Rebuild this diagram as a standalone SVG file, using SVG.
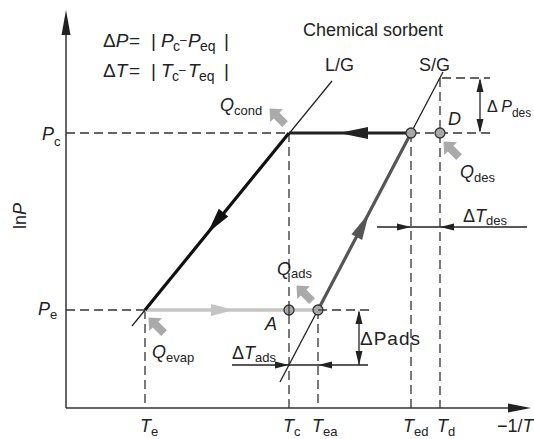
<svg xmlns="http://www.w3.org/2000/svg" width="534" height="439" viewBox="0 0 534 439">
<style>
text{font-family:"Liberation Sans",Arial,sans-serif;font-size:18px;fill:#222}
.s{font-size:13px;font-style:normal}
.i{font-style:italic}
.eq{font-size:19px}
.eq .s{font-size:14px}
.eq .m{font-size:12px}
.ax{stroke:#333;stroke-width:1.5;fill:none}
.th{stroke:#222;stroke-width:1.3;fill:none}
.d{stroke:#333;stroke-width:1.3;fill:none;stroke-dasharray:9 5}
.c{fill:#a8a8a8;stroke:#333;stroke-width:1.3}
.q{fill:#aaaaaa}
.h{fill:#222}
</style>
<defs>
<path id="qa" d="M0,-12 L9,-2 L4,-2 L4,10 L-4,10 L-4,-2 L-9,-2 Z"/>
</defs>
<g id="axes">
<line class="ax" x1="66" y1="408" x2="66" y2="30"/>
<polygon class="h" points="66,10 61.5,35 70.5,35"/>
<line class="ax" x1="66" y1="408" x2="512" y2="408"/>
<polygon class="h" points="531,408 508,403.5 508,412.5"/>
</g>
<g id="dashed">
<line class="d" x1="66" y1="133" x2="289" y2="133"/>
<line class="d" x1="411" y1="133" x2="490" y2="133"/>
<line class="d" x1="442" y1="78" x2="490" y2="78"/>
<line class="d" x1="66" y1="310" x2="145" y2="310"/>
<line class="d" x1="318" y1="310" x2="370" y2="310"/>
<line class="d" x1="145" y1="310" x2="145" y2="408"/>
<line class="d" x1="289" y1="133" x2="289" y2="408"/>
<line class="d" x1="318" y1="310" x2="318" y2="408"/>
<line class="d" x1="411" y1="133" x2="411" y2="408"/>
<line class="d" x1="440" y1="78" x2="440" y2="408"/>
</g>
<g id="connectors">
<line class="th" x1="132" y1="326" x2="332" y2="81"/>
<line class="th" x1="280" y1="382" x2="443" y2="72"/>
<line x1="145" y1="310" x2="318" y2="310" stroke="#c4c4c4" stroke-width="3.5"/>
<polygon points="234,310 211,304 211,316" fill="#c4c4c4"/>
<line x1="411" y1="133" x2="289" y2="133" stroke="#222" stroke-width="3.2"/>
<polygon class="h" points="339,133 368,127 368,139"/>
<line x1="289" y1="133" x2="145" y2="310" stroke="#111" stroke-width="3.2"/>
<polygon points="207.6,233 228.2,216.6 218.8,208.8" fill="#111"/>
<line x1="318" y1="310" x2="411" y2="133" stroke="#555" stroke-width="3.2"/>
<polygon points="369,213 362.1,239.9 351.5,234.3" fill="#555"/>
</g>
<g id="dims">
<line class="th" x1="480" y1="80" x2="480" y2="131"/>
<polygon class="h" points="480,78 476.5,92 483.5,92"/>
<polygon class="h" points="480,133 476.5,119 483.5,119"/>
<line class="th" x1="359" y1="312" x2="359" y2="365"/>
<polygon class="h" points="359,310 355.5,324 362.5,324"/>
<polygon class="h" points="359,365 355.5,351 362.5,351"/>
<line class="th" x1="232" y1="365" x2="368" y2="365"/>
<polygon class="h" points="289,365 275,361.5 275,368.5"/>
<polygon class="h" points="318,365 332,361.5 332,368.5"/>
<line class="th" x1="377" y1="227" x2="527" y2="227"/>
<polygon class="h" points="411,227 397,223.5 397,230.5"/>
<polygon class="h" points="440,227 454,223.5 454,230.5"/>
</g>
<g id="points">
<circle class="c" cx="411" cy="133" r="5"/>
<circle class="c" cx="440" cy="133" r="5"/>
<circle class="c" cx="289" cy="310" r="5"/>
<circle class="c" cx="318" cy="310" r="5"/>
<line x1="289" y1="305" x2="289" y2="315" stroke="#333" stroke-width="1.2"/>
<line x1="318" y1="310" x2="323" y2="310" stroke="#333" stroke-width="1.2"/>
</g>
<g id="heat-arrows">
<use href="#qa" class="q" transform="translate(278,117) rotate(-45)"/>
<use href="#qa" class="q" transform="translate(452,150) rotate(-45)"/>
<use href="#qa" class="q" transform="translate(305,294) rotate(-45)"/>
<use href="#qa" class="q" transform="translate(157,326) rotate(-45)"/>
</g>
<g id="equations">
<text class="eq" y="47"><tspan x="103">Δ</tspan><tspan class="i">P</tspan><tspan x="129">=</tspan><tspan x="151">|</tspan><tspan x="161" class="i">P</tspan><tspan class="s" x="173" dy="4">c</tspan><tspan class="m" x="180" dy="-7">–</tspan><tspan x="188" class="i" dy="3">P</tspan><tspan class="s" x="200" dy="4">eq</tspan><tspan x="224" dy="-4">|</tspan></text>
<text class="eq" y="77"><tspan x="103">Δ</tspan><tspan class="i">T</tspan><tspan x="129">=</tspan><tspan x="151">|</tspan><tspan x="161" class="i">T</tspan><tspan class="s" x="172" dy="4">c</tspan><tspan class="m" x="179" dy="-7">–</tspan><tspan x="188" class="i" dy="3">T</tspan><tspan class="s" x="199" dy="4">eq</tspan><tspan x="224" dy="-4">|</tspan></text>
</g>
<g id="labels">
<text x="303" y="36">Chemical sorbent</text>
<text x="325" y="71">L/G</text>
<text x="419" y="71">S/G</text>
<text x="448" y="125" class="i">D</text>
<text x="487" y="112" style="font-size:16px">Δ <tspan class="i">P</tspan><tspan class="s" dy="5" style="font-size:12px">des</tspan></text>
<text x="220" y="111" class="i">Q<tspan class="s" dy="4">cond</tspan></text>
<text x="460" y="178" class="i">Q<tspan class="s" dy="4">des</tspan></text>
<text x="463" y="222">Δ<tspan class="i">T</tspan><tspan class="s" dy="3">des</tspan></text>
<text x="277" y="275" class="i">Q<tspan class="s" dy="3">ads</tspan></text>
<text x="265" y="330" class="i">A</text>
<text x="360" y="345" style="font-size:19px;letter-spacing:1px">ΔPads</text>
<text x="232" y="359">Δ<tspan class="i">T</tspan><tspan class="s" dy="3">ads</tspan></text>
<text x="152" y="358" class="i">Q<tspan class="s" dy="4">evap</tspan></text>
<text x="42" y="140" class="i">P<tspan class="s" dy="6">c</tspan></text>
<text x="38" y="315" class="i">P<tspan class="s" dy="4">e</tspan></text>
<text transform="translate(26,229) rotate(-90)">ln<tspan class="i">P</tspan></text>
<text x="140" y="432" class="i">T<tspan class="s" dy="4">e</tspan></text>
<text x="283" y="432" class="i">T<tspan class="s" dy="4">c</tspan></text>
<text x="312" y="432" class="i">T<tspan class="s" dy="4">ea</tspan></text>
<text x="403" y="432" class="i">T<tspan class="s" dy="4">ed</tspan></text>
<text x="437" y="432" class="i">T<tspan class="s" dy="4">d</tspan></text>
<text x="497" y="432">−1/<tspan class="i">T</tspan></text>
</g>
</svg>
